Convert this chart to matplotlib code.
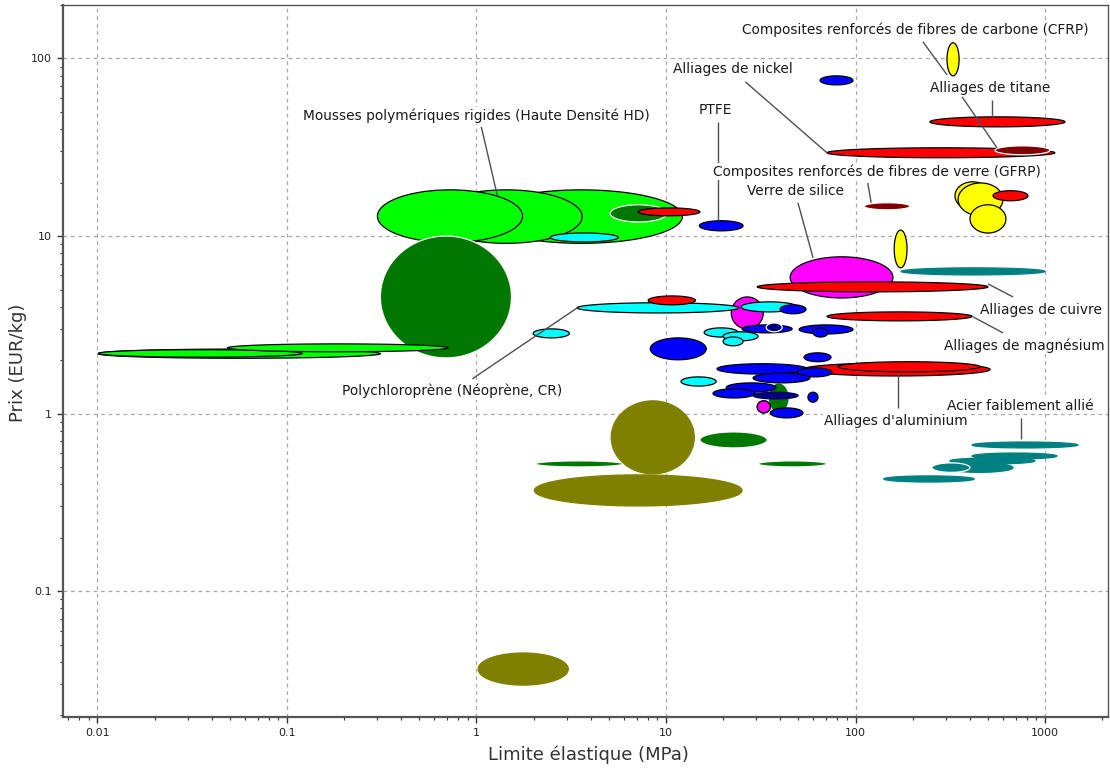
import numpy as np
import matplotlib
matplotlib.use('Agg')
import matplotlib.pyplot as plt
from matplotlib.ticker import FixedLocator, FixedFormatter, LogLocator, NullFormatter

# ---------------- data (ranges, draw order) ----------------
family = ['mousse', 'mousse', 'mousse',
          'naturel',
          'elastomere', 'elastomere', 'elastomere',
          'naturel', 'naturel', 'naturel', 'naturel', 'naturel',
          'ceramique', 'ceramique', 'ceramique',
          'verre', 'verre', 'verre',
          'thermoplast', 'thermoplast', 'thermoplast', 'thermoplast', 'thermoplast',
          'thermoplast', 'thermoplast', 'thermoplast',
          'composite', 'composite', 'composite', 'composite', 'composite',
          'non_ferreux', 'non_ferreux', 'non_ferreux', 'non_ferreux', 'non_ferreux',
          'non_ferreux', 'non_ferreux', 'non_ferreux', 'non_ferreux',
          'titane_alpha', 'titane_alpha',
          'thermodur', 'thermodur', 'thermodur', 'thermodur', 'thermodur', 'thermodur',
          'thermodur', 'thermodur', 'thermodur', 'thermodur', 'thermodur', 'thermodur',
          'thermodur', 'thermodur', 'thermodur',
          'thermodur_fonce_b', 'thermodur_fonce',
          'verre_petit',
          'ferreux', 'ferreux', 'ferreux', 'ferreux', 'ferreux', 'ferreux_b', 'ferreux']

x_lo = [1.05, 0.57, 0.30,
        0.311,
        0.0101, 0.0101, 0.0485,
        5.08, 15.1, 2.04, 30.6, 34.6,
        2.02, 5.14, 1.02,
        45.2, 22.1, 30.3,
        2.45, 3.40, 24.9, 1.99, 15.9, 20.0, 20.0, 12.0,
        304, 160, 335, 348, 402,
        7.13, 8.05, 70.8, 247, 30.3, 70.8, 52.8, 80.8, 532,
        545, 111,
        65.0, 15.0, 8.26, 40.0, 25.2, 50.4, 59.7, 53.5, 18.6, 49.2, 28.8, 20.8, 17.7, 56.1, 35.5,
        33.8, 28.8,
        30.3,
        174, 412, 412, 315, 297, 253, 141]
x_hi = [12.2, 3.61, 1.75,
        1.53,
        0.311, 0.1205, 0.710,
        10.1, 34.2, 5.94, 70.8, 44.7,
        25.2, 14.1, 3.05,
        157.6, 32.6, 35.5,
        5.60, 24.3, 49.2, 3.09, 24.0, 30.6, 25.5, 18.4,
        352, 187, 513, 600, 622,
        15.1, 14.3, 1127, 1275, 500, 412, 513, 454, 813,
        1062, 194,
        97.0, 25.5, 16.3, 54.8, 46.3, 97.0, 71.6, 74.3, 55.5, 75.1, 57.5, 38.1, 29.5, 63.4, 52.8,
        41.0, 49.8,
        35.5,
        1000, 1493, 1156, 885, 678, 402, 423]
y_lo = [9.1, 9.1, 9.2,
        2.06,
        2.05, 2.08, 2.23,
        12.0, 0.641, 0.501, 0.501, 1.01,
        0.302, 0.458, 0.0296,
        4.48, 3.00, 1.01,
        9.27, 3.69, 3.74, 2.67, 2.70, 2.57, 2.41, 1.43,
        79.8, 6.62, 14.05, 13.0, 10.4,
        13.0, 4.10, 27.6, 41.2, 4.85, 3.33, 1.63, 1.72, 15.8,
        28.7, 14.05,
        71.0, 10.7, 2.01, 3.65, 2.85, 2.81, 2.70, 1.96, 1.67, 1.61, 1.49, 1.32, 1.225, 1.16, 0.946,
        2.89, 1.21,
        1.01,
        6.04, 0.641, 0.555, 0.521, 0.467, 0.467, 0.412]
y_hi = [18.2, 18.2, 18.2,
        10.0,
        2.31, 2.29, 2.47,
        15.0, 0.789, 0.542, 0.542, 1.49,
        0.452, 1.18, 0.0449,
        7.64, 4.54, 1.18,
        10.4, 4.21, 4.26, 3.00, 3.04, 2.89, 2.70, 1.61,
        122.5, 10.8, 20.2, 19.9, 15.0,
        14.4, 4.60, 31.4, 46.9, 5.52, 3.74, 1.93, 1.96, 18.0,
        32.2, 15.4,
        79.8, 12.2, 2.67, 4.10, 3.16, 3.16, 3.04, 2.20, 1.91, 1.81, 1.69, 1.49, 1.38, 1.32, 1.077,
        3.24, 1.32,
        1.18,
        6.62, 0.692, 0.600, 0.563, 0.528, 0.528, 0.446]

# label texts, anchor of text and leader lines
labels = ['Composites renforcés de fibres de carbone (CFRP)', 'Alliages de nickel',
          'Alliages de titane', 'Mousses polymériques rigides (Haute Densité HD)', 'PTFE',
          'Composites renforcés de fibres de verre (GFRP)', 'Verre de silice',
          'Alliages de cuivre', 'Alliages de magnésium', 'Polychloroprène (Néoprène, CR)',
          "Alliages d'aluminium", 'Acier faiblement allié']
label_x = [206, 22.6, 513, 1.0, 18.2, 130, 48.0, 953, 775, 0.745, 164, 738]
label_y = [145, 87.5, 68.4, 47.5, 51.4, 23.0, 18.0, 3.84, 2.41, 1.34, 0.910, 1.105]
leaders = [((227, 124), (304, 80.9)),
           ((26.2, 73.9), (70.8, 29.4)),
           ((525, 58.5), (525, 46.9)),
           ((365, 60.8), (558, 31.4)),
           ((1.06, 41.2), (1.29, 16.8)),
           ((18.8, 44.0), (18.8, 12.3)),
           ((116, 19.9), (121, 15.4)),
           ((49.7, 15.4), (59.7, 7.54)),
           ((500, 5.38), (678, 4.54)),
           ((417, 3.51), (600, 2.85)),
           ((0.950, 1.57), (3.40, 3.94)),
           ((168, 1.69), (168, 1.077)),
           ((747, 0.946), (747, 0.720))]

x_ticks = [0.01, 0.1, 1, 10, 100, 1000]
x_ticklabels = ['0.01', '0.1', '1', '10', '100', '1000']
y_ticks = [0.1, 1, 10, 100]
y_ticklabels = ['0.1', '1', '10', '100']

# ---------------- styles ----------------
face = {'mousse': '#00ff00', 'elastomere': '#00ff00', 'naturel': '#007800',
        'ceramique': '#808000', 'verre': '#ff00ff', 'verre_petit': '#ff00ff',
        'thermoplast': '#00ffff', 'composite': '#ffff00', 'non_ferreux': '#ff0000',
        'titane_alpha': '#800000', 'thermodur': '#0000ff', 'thermodur_fonce': '#000080',
        'thermodur_fonce_b': '#000080', 'ferreux': '#008080', 'ferreux_b': '#008080'}
edge = {'mousse': 'black', 'elastomere': 'black', 'naturel': 'white',
        'ceramique': '#808000', 'verre': 'black', 'verre_petit': 'black',
        'thermoplast': 'black', 'composite': 'black', 'non_ferreux': 'black',
        'titane_alpha': 'white', 'thermodur': 'black', 'thermodur_fonce': '#000060',
        'thermodur_fonce_b': 'white', 'ferreux': '#008080', 'ferreux_b': 'white'}

fig = plt.figure(figsize=(11.1, 7.71), dpi=100)
ax = fig.add_axes([63.3 / 1110, 1 - 717.3 / 771, (1108 - 63.3) / 1110, (717.3 - 5) / 771])
ax.set_xscale('log')
ax.set_yscale('log')
ax.set_xlim(0.0066, 2150)
ax.set_ylim(0.0195, 200)

t = np.linspace(0, 2 * np.pi, 240)
for i, fam in enumerate(family):
    lx0, lx1 = np.log10(x_lo[i]), np.log10(x_hi[i])
    ly0, ly1 = np.log10(y_lo[i]), np.log10(y_hi[i])
    cx, rx = (lx0 + lx1) / 2, (lx1 - lx0) / 2
    cy, ry = (ly0 + ly1) / 2, (ly1 - ly0) / 2
    xs = 10 ** (cx + rx * np.cos(t))
    ys = 10 ** (cy + ry * np.sin(t))
    ax.fill(xs, ys, facecolor=face[fam], edgecolor=edge[fam], linewidth=0.9,
            zorder=2 + i * 0.01)

for (p0, p1) in leaders:
    ax.plot([p0[0], p1[0]], [p0[1], p1[1]], color='#505050', lw=1.0, zorder=5,
            solid_capstyle='butt')

for s, lx, ly in zip(labels, label_x, label_y):
    ax.text(lx, ly, s, ha='center', va='center', fontsize=9.9, color='#1a1a1a',
            family='DejaVu Sans', zorder=6,
            bbox=dict(facecolor='white', edgecolor='none', pad=1.0))

# axes styling
ax.set_axisbelow(True)
ax.grid(True, which='major', linestyle=(0, (3, 3)), color='#a8a8a8', linewidth=0.9)
ax.xaxis.set_major_locator(FixedLocator(x_ticks))
ax.xaxis.set_major_formatter(FixedFormatter(x_ticklabels))
ax.yaxis.set_major_locator(FixedLocator(y_ticks))
ax.yaxis.set_major_formatter(FixedFormatter(y_ticklabels))
ax.xaxis.set_minor_locator(LogLocator(base=10, subs=np.arange(2, 10), numticks=20))
ax.yaxis.set_minor_locator(LogLocator(base=10, subs=np.arange(2, 10), numticks=20))
ax.xaxis.set_minor_formatter(NullFormatter())
ax.yaxis.set_minor_formatter(NullFormatter())
ax.tick_params(which='major', direction='out', length=4, width=1, color='#333333',
               labelsize=8, labelcolor='#222222', pad=4)
ax.tick_params(which='minor', direction='out', length=2.5, width=0.8, color='#333333')
for side in ['left', 'bottom']:
    ax.spines[side].set_color('#555555')
    ax.spines[side].set_linewidth(1.6)
for side in ['top', 'right']:
    ax.spines[side].set_color('#555555')
    ax.spines[side].set_linewidth(1.0)

fig.text(588 / 1110, 1 - 755 / 771, 'Limite élastique (MPa)', ha='center', va='center',
         fontsize=13, color='#333333')
fig.text(18 / 1110, 1 - 363 / 771, 'Prix (EUR/kg)', ha='center', va='center',
         rotation=90, fontsize=13, color='#333333')

fig.savefig('out.png', dpi=100, facecolor='white')
